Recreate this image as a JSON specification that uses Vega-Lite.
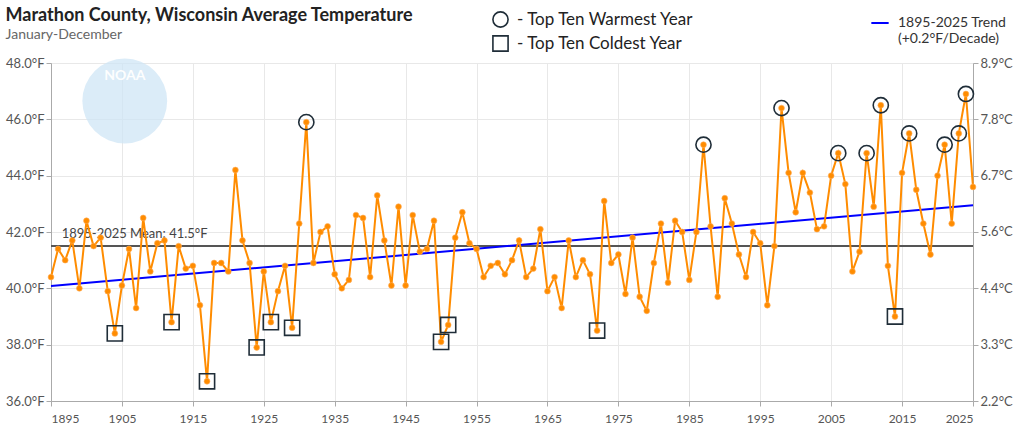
{
  "$schema": "https://vega.github.io/schema/vega-lite/v6.json",
  "width": 922,
  "height": 338,
  "autosize": {"type": "none"},
  "padding": {"left": 51, "top": 63, "right": 51, "bottom": 31},
  "background": "white",
  "config": {
    "font": "Lato",
    "view": {"stroke": null},
    "axis": {"labelColor": "#555", "labelFontSize": 12, "tickColor": "#aaa", "domainColor": "#aaa", "gridColor": "#e8e8e8", "titleColor": "#555"}
  },
  "title": {
    "text": "Marathon County, Wisconsin Average Temperature",
    "subtitle": "January-December",
    "anchor": "start",
    "frame": "bounds",
    "fontSize": 18,
    "fontWeight": "bold",
    "color": "#222",
    "subtitleFontSize": 14,
    "subtitleColor": "#666",
    "subtitlePadding": 3,
    "offset": 0,
    "dy": 31
  },
  "datasets": {
    "temps": [
      {"year": 1895, "temp": 40.4}, {"year": 1896, "temp": 41.4}, {"year": 1897, "temp": 41.0}, {"year": 1898, "temp": 41.7}, {"year": 1899, "temp": 40.0},
      {"year": 1900, "temp": 42.4}, {"year": 1901, "temp": 41.5}, {"year": 1902, "temp": 41.8}, {"year": 1903, "temp": 39.9}, {"year": 1904, "temp": 38.4, "rank": "Top Ten Coldest Year"},
      {"year": 1905, "temp": 40.1}, {"year": 1906, "temp": 41.4}, {"year": 1907, "temp": 39.3}, {"year": 1908, "temp": 42.5}, {"year": 1909, "temp": 40.6},
      {"year": 1910, "temp": 41.6}, {"year": 1911, "temp": 41.7}, {"year": 1912, "temp": 38.8, "rank": "Top Ten Coldest Year"}, {"year": 1913, "temp": 41.5}, {"year": 1914, "temp": 40.7},
      {"year": 1915, "temp": 40.8}, {"year": 1916, "temp": 39.4}, {"year": 1917, "temp": 36.7, "rank": "Top Ten Coldest Year"}, {"year": 1918, "temp": 40.9}, {"year": 1919, "temp": 40.9},
      {"year": 1920, "temp": 40.6}, {"year": 1921, "temp": 44.2}, {"year": 1922, "temp": 41.7}, {"year": 1923, "temp": 40.9}, {"year": 1924, "temp": 37.9, "rank": "Top Ten Coldest Year"},
      {"year": 1925, "temp": 40.6}, {"year": 1926, "temp": 38.8, "rank": "Top Ten Coldest Year"}, {"year": 1927, "temp": 39.9}, {"year": 1928, "temp": 40.8}, {"year": 1929, "temp": 38.6, "rank": "Top Ten Coldest Year"},
      {"year": 1930, "temp": 42.3}, {"year": 1931, "temp": 45.9, "rank": "Top Ten Warmest Year"}, {"year": 1932, "temp": 40.9}, {"year": 1933, "temp": 42.0}, {"year": 1934, "temp": 42.2},
      {"year": 1935, "temp": 40.5}, {"year": 1936, "temp": 40.0}, {"year": 1937, "temp": 40.3}, {"year": 1938, "temp": 42.6}, {"year": 1939, "temp": 42.5},
      {"year": 1940, "temp": 40.4}, {"year": 1941, "temp": 43.3}, {"year": 1942, "temp": 41.7}, {"year": 1943, "temp": 40.1}, {"year": 1944, "temp": 42.9},
      {"year": 1945, "temp": 40.1}, {"year": 1946, "temp": 42.6}, {"year": 1947, "temp": 41.3}, {"year": 1948, "temp": 41.4}, {"year": 1949, "temp": 42.4},
      {"year": 1950, "temp": 38.1, "rank": "Top Ten Coldest Year"}, {"year": 1951, "temp": 38.7, "rank": "Top Ten Coldest Year"}, {"year": 1952, "temp": 41.8}, {"year": 1953, "temp": 42.7}, {"year": 1954, "temp": 41.6},
      {"year": 1955, "temp": 41.4}, {"year": 1956, "temp": 40.4}, {"year": 1957, "temp": 40.8}, {"year": 1958, "temp": 40.9}, {"year": 1959, "temp": 40.5},
      {"year": 1960, "temp": 41.0}, {"year": 1961, "temp": 41.7}, {"year": 1962, "temp": 40.4}, {"year": 1963, "temp": 40.7}, {"year": 1964, "temp": 42.1},
      {"year": 1965, "temp": 39.9}, {"year": 1966, "temp": 40.4}, {"year": 1967, "temp": 39.3}, {"year": 1968, "temp": 41.7}, {"year": 1969, "temp": 40.4},
      {"year": 1970, "temp": 41.0}, {"year": 1971, "temp": 40.5}, {"year": 1972, "temp": 38.5, "rank": "Top Ten Coldest Year"}, {"year": 1973, "temp": 43.1}, {"year": 1974, "temp": 40.9},
      {"year": 1975, "temp": 41.2}, {"year": 1976, "temp": 39.8}, {"year": 1977, "temp": 41.8}, {"year": 1978, "temp": 39.7}, {"year": 1979, "temp": 39.2},
      {"year": 1980, "temp": 40.9}, {"year": 1981, "temp": 42.3}, {"year": 1982, "temp": 40.2}, {"year": 1983, "temp": 42.4}, {"year": 1984, "temp": 42.0},
      {"year": 1985, "temp": 40.3}, {"year": 1986, "temp": 42.0}, {"year": 1987, "temp": 45.1, "rank": "Top Ten Warmest Year"}, {"year": 1988, "temp": 42.2}, {"year": 1989, "temp": 39.7},
      {"year": 1990, "temp": 43.2}, {"year": 1991, "temp": 42.3}, {"year": 1992, "temp": 41.2}, {"year": 1993, "temp": 40.4}, {"year": 1994, "temp": 42.0},
      {"year": 1995, "temp": 41.6}, {"year": 1996, "temp": 39.4}, {"year": 1997, "temp": 41.5}, {"year": 1998, "temp": 46.4, "rank": "Top Ten Warmest Year"}, {"year": 1999, "temp": 44.1},
      {"year": 2000, "temp": 42.7}, {"year": 2001, "temp": 44.1}, {"year": 2002, "temp": 43.4}, {"year": 2003, "temp": 42.1}, {"year": 2004, "temp": 42.2},
      {"year": 2005, "temp": 44.0}, {"year": 2006, "temp": 44.8, "rank": "Top Ten Warmest Year"}, {"year": 2007, "temp": 43.7}, {"year": 2008, "temp": 40.6}, {"year": 2009, "temp": 41.3},
      {"year": 2010, "temp": 44.8, "rank": "Top Ten Warmest Year"}, {"year": 2011, "temp": 42.9}, {"year": 2012, "temp": 46.5, "rank": "Top Ten Warmest Year"}, {"year": 2013, "temp": 40.8}, {"year": 2014, "temp": 39.0, "rank": "Top Ten Coldest Year"},
      {"year": 2015, "temp": 44.1}, {"year": 2016, "temp": 45.5, "rank": "Top Ten Warmest Year"}, {"year": 2017, "temp": 43.5}, {"year": 2018, "temp": 42.3}, {"year": 2019, "temp": 41.2},
      {"year": 2020, "temp": 44.0}, {"year": 2021, "temp": 45.1, "rank": "Top Ten Warmest Year"}, {"year": 2022, "temp": 42.3}, {"year": 2023, "temp": 45.5, "rank": "Top Ten Warmest Year"}, {"year": 2024, "temp": 46.9, "rank": "Top Ten Warmest Year"},
      {"year": 2025, "temp": 43.6}
    ],
    "trend": [
      {"year": 1895, "temp": 40.08, "series": "1895-2025 Trend"},
      {"year": 2025, "temp": 42.95, "series": "1895-2025 Trend"}
    ],
    "mean": [
      {"label": "1895-2025 Mean: 41.5°F", "temp": 41.5}
    ],
    "logo": [
      {"name": "NOAA"}
    ]
  },
  "layer": [
    {
      "layer": [
        {
          "data": {"name": "logo"},
          "mark": {"type": "point", "shape": "circle", "filled": true, "color": "#cfe6f5", "opacity": 0.75, "size": 7200},
          "encoding": {
            "x": {"datum": 1905.4, "type": "quantitative"},
            "y": {"datum": 46.65, "type": "quantitative"}
          }
        },
        {
          "data": {"name": "logo"},
          "mark": {"type": "text", "fontSize": 14, "fontWeight": "bold", "color": "#ffffff", "opacity": 0.95},
          "encoding": {
            "x": {"datum": 1905.4, "type": "quantitative"},
            "y": {"datum": 47.55, "type": "quantitative"},
            "text": {"field": "name"}
          }
        },
        {
          "data": {"name": "mean"},
          "mark": {"type": "rule", "color": "#555", "strokeWidth": 2},
          "encoding": {"y": {"field": "temp", "type": "quantitative"}}
        },
        {
          "data": {"name": "mean"},
          "mark": {"type": "text", "align": "left", "baseline": "middle", "dy": -12, "fontSize": 13, "color": "#444"},
          "encoding": {
            "x": {"datum": 1896.5, "type": "quantitative"},
            "y": {"field": "temp", "type": "quantitative"},
            "text": {"field": "label"}
          }
        },
        {
          "data": {"name": "trend"},
          "mark": {"type": "line", "strokeWidth": 2},
          "encoding": {
            "x": {"field": "year", "type": "quantitative"},
            "y": {"field": "temp", "type": "quantitative"},
            "stroke": {
              "field": "series", "type": "nominal",
              "scale": {"range": ["#0000ff"]},
              "legend": {
                "title": null, "orient": "none", "legendX": 819, "legendY": -50,
                "symbolType": "stroke", "symbolStrokeWidth": 2, "symbolSize": 300,
                "labelFontSize": 14, "labelColor": "#333", "labelOffset": 8, "labelLimit": 300,
                "labelExpr": "['1895-2025 Trend', '(+0.2°F/Decade)']"
              }
            }
          }
        },
        {
          "data": {"name": "temps"},
          "mark": {"type": "line", "color": "#ff8c00", "strokeWidth": 2},
          "encoding": {
            "x": {"field": "year", "type": "quantitative"},
            "y": {"field": "temp", "type": "quantitative"}
          }
        },
        {
          "data": {"name": "temps"},
          "mark": {"type": "point", "shape": "circle", "filled": true, "color": "#ff8c00", "opacity": 1, "size": 34, "stroke": "#ffb060", "strokeWidth": 0.6},
          "encoding": {
            "x": {"field": "year", "type": "quantitative"},
            "y": {"field": "temp", "type": "quantitative"}
          }
        },
        {
          "data": {"name": "temps"},
          "transform": [{"filter": "datum.rank != null"}],
          "mark": {"type": "point", "filled": false, "color": "#1f2d38", "strokeWidth": 1.6, "size": 230, "opacity": 1},
          "encoding": {
            "x": {"field": "year", "type": "quantitative"},
            "y": {"field": "temp", "type": "quantitative"},
            "shape": {
              "field": "rank", "type": "nominal",
              "scale": {"domain": ["Top Ten Warmest Year", "Top Ten Coldest Year"], "range": ["circle", "square"]},
              "legend": {
                "title": null, "orient": "none", "legendX": 441, "legendY": -52,
                "symbolSize": 230, "symbolStrokeWidth": 1.6, "symbolStrokeColor": "#1f2d38", "symbolFillColor": "transparent",
                "labelFontSize": 17, "labelColor": "#222", "labelOffset": 8, "rowPadding": 1, "labelLimit": 400,
                "labelExpr": "'- ' + datum.label"
              }
            }
          }
        }
      ],
      "encoding": {
        "x": {
          "type": "quantitative",
          "scale": {"domain": [1895, 2025], "nice": false, "zero": false},
          "axis": {"title": null, "values": [1895, 1905, 1915, 1925, 1935, 1945, 1955, 1965, 1975, 1985, 1995, 2005, 2015, 2025], "format": "d", "grid": true, "labelPadding": 7, "tickSize": 5}
        },
        "y": {
          "type": "quantitative",
          "scale": {"domain": [36, 48], "nice": false, "zero": false},
          "axis": {"title": null, "values": [36, 38, 40, 42, 44, 46, 48], "labelExpr": "format(datum.value, '.1f') + '°F'", "grid": true, "tickSize": 5, "labelPadding": 2, "labelFontSize": 13}
        }
      }
    },
    {
      "mark": {"type": "rule", "opacity": 0},
      "encoding": {
        "y": {
          "datum": 5, "type": "quantitative",
          "scale": {"domain": [2.2222, 8.8889], "nice": false, "zero": false},
          "axis": {"orient": "right", "title": null, "grid": false, "values": [2.2222, 3.3333, 4.4444, 5.5556, 6.6667, 7.7778, 8.8889], "labelExpr": "format(datum.value, '.1f') + '°C'", "tickSize": 5, "labelPadding": 2, "labelFontSize": 13}
        }
      }
    }
  ],
  "resolve": {"scale": {"y": "independent"}}
}
